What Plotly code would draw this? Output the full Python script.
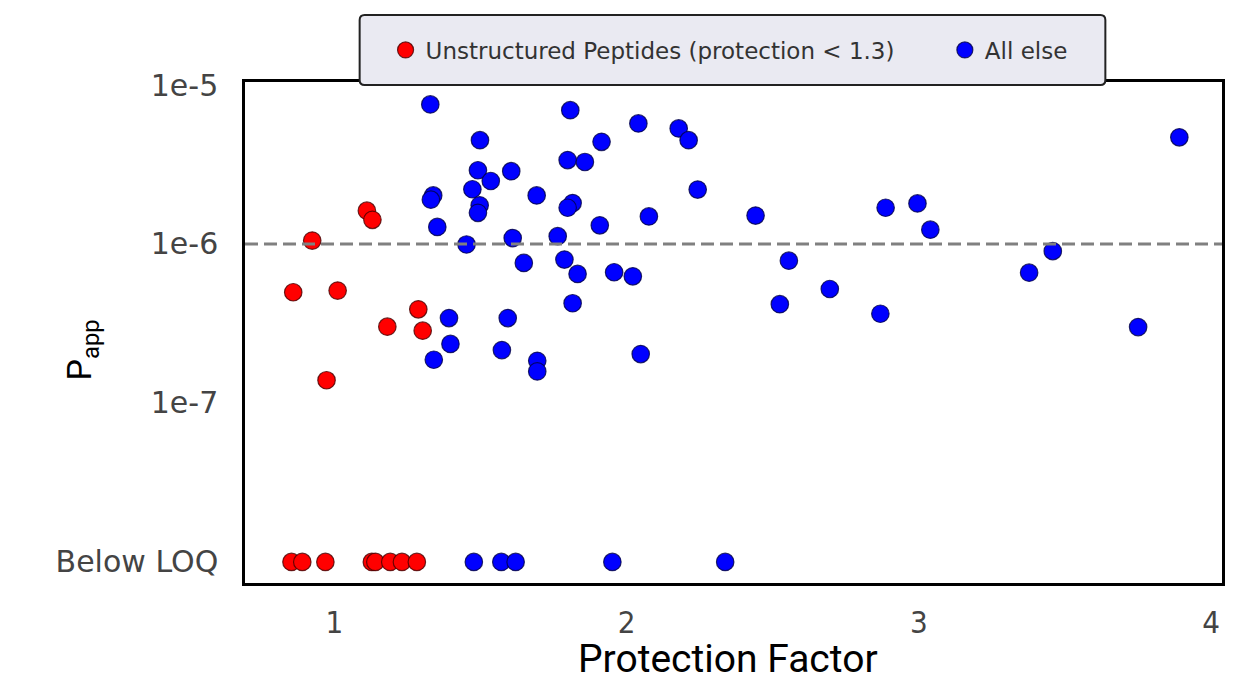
import plotly.graph_objects as go

# ---------------- data ----------------
red_x = [0.924, 1.111, 1.130, 0.859, 1.011, 1.287, 1.181, 1.302, 0.973]
red_y = [1.05e-6, 1.62e-6, 1.42e-6, 4.97e-7, 5.09e-7, 3.88e-7, 3.02e-7, 2.85e-7, 1.39e-7]
red_loq_x = [0.853, 0.890, 0.969, 1.128, 1.140, 1.191, 1.231, 1.282]

blue_x = [1.328, 1.807, 2.040, 2.178, 2.212, 1.498, 1.914, 1.798, 1.857, 1.491,
          1.605, 1.535, 1.472, 2.243, 1.338, 1.330, 1.692, 1.497, 1.491, 1.815,
          1.798, 2.076, 1.352, 1.908, 1.452, 1.610, 1.764, 1.648, 1.787, 1.832,
          1.957, 2.021, 1.815, 1.392, 1.593, 1.397, 1.340, 1.573, 1.694, 1.694,
          2.048, 3.891, 2.441, 2.886, 2.995, 3.039, 2.555, 3.458, 3.377, 2.524,
          2.695, 2.868, 3.750]
blue_y = [7.55e-6, 6.95e-6, 5.73e-6, 5.33e-6, 4.5e-6, 4.5e-6, 4.39e-6, 3.37e-6, 3.28e-6, 2.91e-6,
          2.87e-6, 2.49e-6, 2.21e-6, 2.2e-6, 2.02e-6, 1.9e-6, 2.02e-6, 1.75e-6, 1.57e-6, 1.81e-6,
          1.69e-6, 1.49e-6, 1.28e-6, 1.31e-6, 9.93e-7, 1.09e-6, 1.12e-6, 7.6e-7, 7.98e-7, 6.48e-7,
          6.64e-7, 6.26e-7, 4.24e-7, 3.42e-7, 3.42e-7, 2.35e-7, 1.87e-7, 2.15e-7, 1.84e-7, 1.58e-7,
          2.03e-7, 4.69e-6, 1.51e-6, 1.69e-6, 1.8e-6, 1.23e-6, 7.85e-7, 9.02e-7, 6.6e-7, 4.18e-7,
          5.21e-7, 3.64e-7, 3.0e-7]
blue_loq_x = [1.477, 1.571, 1.620, 1.951, 2.337]

LOQ_VALUE = 1e-8          # position where "Below LOQ" values are plotted
THRESHOLD = 1e-6          # dashed reference line
x_ticks = [1, 2, 3, 4]
y_ticks = [1e-8, 1e-7, 1e-6, 1e-5]
y_tick_labels = ["Below LOQ", "1e-7", "1e-6", "1e-5"]
x_range = [0.694, 4.037]
y_range_log = [-8.1325, -4.981]

# ---------------- layout helpers (pixel -> paper) ----------------
W, H = 1233, 677
ML, MR, MT, MB = 245, 8, 82, 94
PW, PH = W - ML - MR, H - MT - MB


def px_x(p):
    return (p - ML) / PW


def px_y(p):
    return (H - MB - p) / PH


def rounded_box(x0, y0, x1, y1, r):
    pts = [
        f"M {px_x(x0 + r)},{px_y(y0)}",
        f"L {px_x(x1 - r)},{px_y(y0)}",
        f"Q {px_x(x1)},{px_y(y0)} {px_x(x1)},{px_y(y0 + r)}",
        f"L {px_x(x1)},{px_y(y1 - r)}",
        f"Q {px_x(x1)},{px_y(y1)} {px_x(x1 - r)},{px_y(y1)}",
        f"L {px_x(x0 + r)},{px_y(y1)}",
        f"Q {px_x(x0)},{px_y(y1)} {px_x(x0)},{px_y(y1 - r)}",
        f"L {px_x(x0)},{px_y(y0 + r)}",
        f"Q {px_x(x0)},{px_y(y0)} {px_x(x0 + r)},{px_y(y0)}",
        "Z",
    ]
    return " ".join(pts)


# ---------------- figure ----------------
marker_common = dict(size=17.5)
fig = go.Figure()
fig.add_trace(go.Scatter(
    x=red_x + red_loq_x,
    y=red_y + [LOQ_VALUE] * len(red_loq_x),
    mode="markers",
    name="Unstructured Peptides (protection < 1.3)",
    legend="legend",
    marker=dict(color="#ff0000", line=dict(color="rgba(70,0,0,0.8)", width=1.2), **marker_common),
))
fig.add_trace(go.Scatter(
    x=blue_x + blue_loq_x,
    y=blue_y + [LOQ_VALUE] * len(blue_loq_x),
    mode="markers",
    name="All else",
    legend="legend2",
    marker=dict(color="#0000ff", line=dict(color="rgba(0,0,70,0.8)", width=1.2), **marker_common),
))
fig.add_trace(go.Scatter(
    x=x_range, y=[THRESHOLD, THRESHOLD], mode="lines",
    line=dict(color="#808080", width=3, dash="13px,6px"),
    showlegend=False, hoverinfo="skip",
))

legend_font = dict(family="DejaVu Sans", size=23, color="#333333")
legend_common = dict(
    orientation="h", xanchor="left", yanchor="middle", y=px_y(50),
    bgcolor="rgba(0,0,0,0)", borderwidth=0, font=legend_font,
)

fig.update_layout(
    width=W, height=H,
    margin=dict(l=ML, r=MR, t=MT, b=MB),
    paper_bgcolor="white", plot_bgcolor="white",
    showlegend=True,
    legend=dict(x=px_x(386), **legend_common),
    legend2=dict(x=px_x(947), **legend_common),
    xaxis=dict(
        range=x_range, tickvals=x_ticks, ticktext=[str(v) for v in x_ticks],
        showgrid=False, zeroline=False,
        showline=True, mirror=True, linecolor="black", linewidth=2.5,
        ticks="", ticklabelstandoff=10,
        tickfont=dict(family="DejaVu Sans Condensed, DejaVu Sans", size=31, color="#444444"),
    ),
    yaxis=dict(
        type="log", range=y_range_log, tickvals=y_ticks, ticktext=y_tick_labels,
        showgrid=False, zeroline=False,
        showline=True, mirror=True, linecolor="black", linewidth=2.5,
        ticks="", ticklabelstandoff=18,
        tickfont=dict(family="DejaVu Sans", size=30, color="#444444"),
    ),
    shapes=[
        dict(type="path", xref="paper", yref="paper", layer="above",
             path=rounded_box(360, 15, 1108, 85, 5),
             fillcolor="#eaeaf2", line=dict(color="#222222", width=2)),
    ],
    annotations=[
        dict(text="Protection Factor", xref="paper", yref="paper",
             x=px_x(729), y=px_y(659), xanchor="center", yanchor="middle",
             showarrow=False, font=dict(family="Roboto", size=39, color="black")),
        dict(text="P<sub>app</sub>", xref="paper", yref="paper",
             x=px_x(82), y=px_y(350), xanchor="center", yanchor="middle",
             textangle=-90, showarrow=False, font=dict(family="Roboto", size=34, color="black")),
    ],
)

fig.write_html("out.html")
